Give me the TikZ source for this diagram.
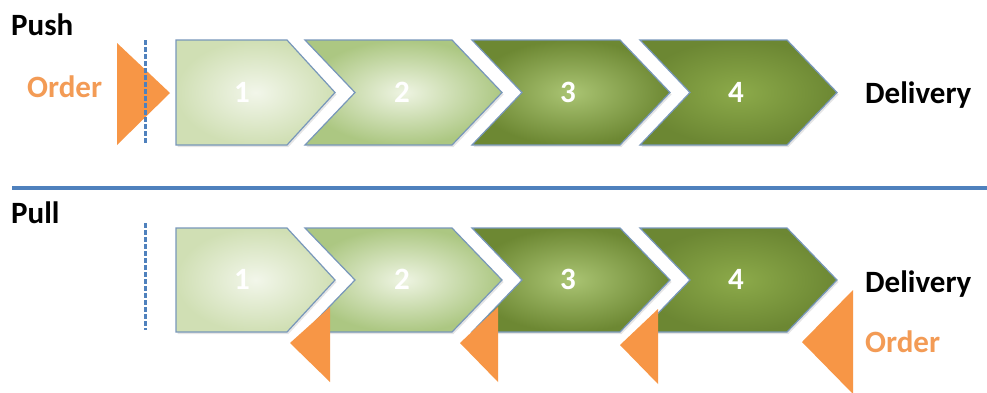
\documentclass[tikz,border=0pt]{standalone}
\usepackage{fontspec}
\setmainfont{Carlito}
\usepackage{tikz}
\usetikzlibrary{shadows}

\definecolor{orderorange}{HTML}{F79646}
\definecolor{ordertext}{HTML}{F39B55}
\definecolor{lineblue}{HTML}{4F81BD}
\definecolor{edgeblue}{HTML}{7897BA}
\definecolor{paleA}{HTML}{F2F6EA}
\definecolor{paleAout}{HTML}{D0DFB4}
\definecolor{paleB}{HTML}{EEF4E2}
\definecolor{paleBout}{HTML}{ACC782}
\definecolor{deepC}{HTML}{AAC473}
\definecolor{deepCout}{HTML}{6D8833}
\definecolor{deepD}{HTML}{8CAA4A}
\definecolor{deepDout}{HTML}{6C8733}

\begin{document}
\begin{tikzpicture}[x=1pt, y=-1pt, font=\fontsize{31}{37}\selectfont\bfseries,
  stage/.style={draw=edgeblue, line width=1.2pt,
    drop shadow={opacity=0.2, shadow xshift=1.5pt, shadow yshift=-2pt}},
  stageA/.style={stage, inner color=paleA, outer color=paleAout},
  stageB/.style={stage, inner color=paleB, outer color=paleBout},
  stageC/.style={stage, inner color=deepC, outer color=deepCout},
  stageD/.style={stage, inner color=deepD, outer color=deepDout},
  marker/.style={fill=orderorange, draw=none},
  sepdash/.style={lineblue, line width=3pt, dash pattern=on 4.5pt off 2.5pt},
  headtext/.style={inner sep=0pt, anchor=base west},
  numtext/.style={white, inner sep=0pt}]

  % Canvas
  \fill[white] (0,0) rectangle (987,392);
  \useasboundingbox (0,0) rectangle (987,392);

  % Push: stages
  \draw[stageA] (176,40) -- (287,40) -- (335,92.5) -- (287,145) -- (176,145) -- cycle;
  \draw[stageB] (305,40) -- (452,40) -- (502,92.5) -- (452,145) -- (305,145) -- (355,92.5) -- cycle;
  \draw[stageC] (472,40) -- (620,40) -- (670,92.5) -- (620,145) -- (472,145) -- (522,92.5) -- cycle;
  \draw[stageD] (640,40) -- (787,40) -- (837,92.5) -- (787,145) -- (640,145) -- (690,92.5) -- cycle;

  % Push: order enters at the start
  \fill[marker] (117,43) -- (117,145) -- (170,93) -- cycle;
  \path (145,40) coordinate(pushtop) (145,145) coordinate(pushbot);
  \draw[sepdash] (pushtop) -- (pushbot);

  % Separator
  \path (12,188) coordinate(sepl) (987,188) coordinate(sepr);
  \draw[lineblue, line width=3.2pt] (sepl) -- (sepr);

  % Pull: stages
  \draw[stageA] (176,228) -- (287,228) -- (335,280) -- (287,332) -- (176,332) -- cycle;
  \draw[stageB] (305,228) -- (452,228) -- (502,280) -- (452,332) -- (305,332) -- (355,280) -- cycle;
  \draw[stageC] (472,228) -- (620,228) -- (670,280) -- (620,332) -- (472,332) -- (522,280) -- cycle;
  \draw[stageD] (640,228) -- (787,228) -- (837,280) -- (787,332) -- (640,332) -- (690,280) -- cycle;

  % Pull: orders flow back
  \fill[marker] (330,307) -- (330,382) -- (290,343) -- cycle;
  \fill[marker] (498,307) -- (498,382) -- (460,343) -- cycle;
  \fill[marker] (658,309) -- (658,384) -- (620,345) -- cycle;
  \fill[marker] (853,290) -- (853,394) -- (802,342) -- cycle;
  \path (145,223) coordinate(pulltop) (145,330) coordinate(pullbot);
  \draw[sepdash] (pulltop) -- (pullbot);

  % Stage numbers
  \node[numtext] (push1) at (242,92) {1};
  \node[numtext] (push2) at (402,92) {2};
  \node[numtext] (push3) at (568,92) {3};
  \node[numtext] (push4) at (736,92) {4};
  \node[numtext] (pull1) at (242,279) {1};
  \node[numtext] (pull2) at (402,279) {2};
  \node[numtext] (pull3) at (568,279) {3};
  \node[numtext] (pull4) at (736,279) {4};

  % Texts
  \node[headtext] (push) at (11,35) {Push};
  \node[headtext] (pull) at (11,223) {Pull};
  \node[headtext, ordertext] (pushorder) at (27,97) {Order};
  \node[headtext] (pushdelivery) at (865,103) {Delivery};
  \node[headtext] (pulldelivery) at (865,292) {Delivery};
  \node[headtext, ordertext] (pullorder) at (865,352) {Order};
\end{tikzpicture}
\end{document}
